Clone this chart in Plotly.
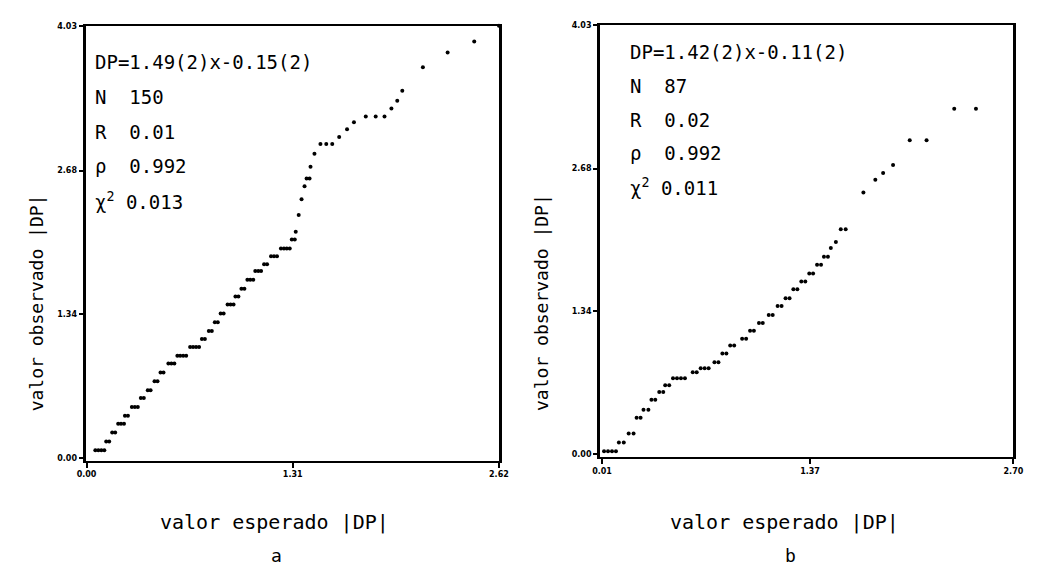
import plotly.graph_objects as go

# Panel a: expected vs observed |DP|
a_esperado = [0.056, 0.075, 0.094, 0.113, 0.125, 0.144, 0.163, 0.182, 0.201, 0.219, 0.238,
              0.244, 0.263, 0.288, 0.307, 0.326, 0.345, 0.364, 0.389, 0.407, 0.432, 0.451,
              0.470, 0.489, 0.520, 0.539, 0.558, 0.577, 0.595, 0.614, 0.633, 0.658, 0.677,
              0.696, 0.715, 0.733, 0.752, 0.777, 0.796, 0.815, 0.834, 0.852, 0.871, 0.896,
              0.915, 0.934, 0.946, 0.965, 0.984, 1.003, 1.022, 1.040, 1.059, 1.072, 1.091,
              1.109, 1.128, 1.147, 1.172, 1.191, 1.210, 1.235, 1.254, 1.272, 1.291, 1.304,
              1.323, 1.329, 1.348, 1.366, 1.385, 1.398, 1.417, 1.423, 1.448, 1.486, 1.523,
              1.561, 1.605, 1.655, 1.699, 1.774, 1.837, 1.893, 1.937, 1.974, 2.006, 2.137,
              2.294, 2.463, 2.620]
a_observado = [0.073, 0.073, 0.073, 0.073, 0.156, 0.156, 0.239, 0.239, 0.321, 0.321, 0.321,
               0.395, 0.395, 0.477, 0.477, 0.477, 0.560, 0.560, 0.633, 0.633, 0.716, 0.716,
               0.799, 0.799, 0.881, 0.881, 0.881, 0.955, 0.955, 0.955, 0.955, 1.037, 1.037,
               1.037, 1.037, 1.111, 1.111, 1.184, 1.184, 1.267, 1.267, 1.349, 1.349, 1.432,
               1.432, 1.432, 1.506, 1.506, 1.579, 1.579, 1.662, 1.662, 1.662, 1.744, 1.744,
               1.744, 1.808, 1.808, 1.882, 1.882, 1.882, 1.955, 1.955, 1.955, 1.955, 2.038,
               2.038, 2.111, 2.267, 2.414, 2.534, 2.607, 2.607, 2.717, 2.837, 2.928, 2.928,
               2.928, 2.993, 3.066, 3.130, 3.185, 3.185, 3.185, 3.259, 3.332, 3.424, 3.644,
               3.782, 3.883, 4.030]

# Panel b
b_esperado = [0.023, 0.049, 0.075, 0.101, 0.120, 0.152, 0.184, 0.216, 0.236, 0.262, 0.281,
              0.313, 0.333, 0.358, 0.384, 0.410, 0.423, 0.449, 0.474, 0.500, 0.526, 0.552,
              0.603, 0.629, 0.655, 0.681, 0.707, 0.745, 0.771, 0.797, 0.823, 0.848, 0.874,
              0.926, 0.952, 0.978, 1.003, 1.036, 1.061, 1.100, 1.126, 1.158, 1.184, 1.210,
              1.236, 1.261, 1.287, 1.313, 1.339, 1.365, 1.390, 1.416, 1.442, 1.461, 1.487,
              1.506, 1.539, 1.571, 1.603, 1.719, 1.797, 1.848, 1.913, 2.022, 2.132, 2.313,
              2.455]
b_observado = [0.028, 0.028, 0.028, 0.028, 0.111, 0.111, 0.195, 0.195, 0.343, 0.343, 0.417,
               0.417, 0.510, 0.510, 0.584, 0.584, 0.648, 0.648, 0.713, 0.713, 0.713, 0.713,
               0.769, 0.769, 0.806, 0.806, 0.806, 0.862, 0.862, 0.945, 0.945, 1.019, 1.019,
               1.084, 1.084, 1.158, 1.158, 1.232, 1.232, 1.306, 1.306, 1.390, 1.390, 1.464,
               1.464, 1.547, 1.547, 1.621, 1.621, 1.695, 1.695, 1.779, 1.779, 1.853, 1.853,
               1.936, 1.991, 2.112, 2.112, 2.455, 2.575, 2.640, 2.714, 2.946, 2.946, 3.242,
               3.242]

a_xticks = [0.00, 1.31, 2.62]
a_yticks = [0.00, 1.34, 2.68, 4.03]
b_xticks = [0.01, 1.37, 2.70]
b_yticks = [0.00, 1.34, 2.68, 4.03]

a_stats = ["DP=1.49(2)x-0.15(2)", "N  150", "R  0.01", "ρ  0.992", "χ<sup>2</sup> 0.013"]
b_stats = ["DP=1.42(2)x-0.11(2)", "N  87", "R  0.02", "ρ  0.992", "χ<sup>2</sup> 0.011"]

W, H = 1046, 571
MONO = "DejaVu Sans Mono"
tickfont = dict(family="DejaVu Sans", size=8, color="black", weight="bold")

fig = go.Figure()
marker = dict(color="black", size=4)
fig.add_trace(go.Scatter(x=a_esperado, y=a_observado, mode="markers", marker=marker,
                         cliponaxis=False, xaxis="x", yaxis="y", showlegend=False))
fig.add_trace(go.Scatter(x=b_esperado, y=b_observado, mode="markers", marker=marker,
                         cliponaxis=False, xaxis="x2", yaxis="y2", showlegend=False))

def xax(domain, rng, ticks, anchor):
    return dict(domain=domain, range=rng, tickvals=ticks,
                ticktext=[f"{t:.2f}" for t in ticks], anchor=anchor,
                showline=True, mirror=True, linecolor="black", linewidth=1.5,
                ticks="outside", ticklen=5, tickwidth=2, tickcolor="black",
                showgrid=False, zeroline=False, tickfont=tickfont,
                layer="below traces")

def yax(domain, rng, ticks, anchor):
    return dict(domain=domain, range=rng, tickvals=ticks,
                ticktext=[f"{t:.2f}" for t in ticks], anchor=anchor,
                showline=True, mirror=True, linecolor="black", linewidth=3,
                ticks="outside", ticklen=4, tickwidth=2, tickcolor="black",
                showgrid=False, zeroline=False, tickfont=tickfont,
                layer="below traces")

fig.update_layout(
    width=W, height=H,
    margin=dict(l=0, r=0, t=0, b=0),
    paper_bgcolor="white", plot_bgcolor="white",
    xaxis=xax([78 / W, 499 / W], [-0.006, 2.62], a_xticks, "y"),
    yaxis=yax([1 - 462 / H, 1 - 22 / H], [-0.028, 4.03], a_yticks, "x"),
    xaxis2=xax([602 / W, 1023 / W], [-0.003, 2.70], b_xticks, "y2"),
    yaxis2=yax([1 - 458 / H, 1 - 21 / H], [-0.028, 4.03], b_yticks, "x2"),
)

ann = []
def stats_block(lines, x0, y0, step):
    for i, s in enumerate(lines):
        ann.append(dict(text=s, x=x0 / W, y=1 - (y0 + i * step) / H,
                        xref="paper", yref="paper",
                        xanchor="left", yanchor="middle", showarrow=False,
                        font=dict(family=MONO, size=19, color="black")))

stats_block(a_stats, 86, 59, 35)
stats_block(b_stats, 630, 49, 34)

titlefont = dict(family=MONO, size=18, color="black")
xtitlefont = dict(family=MONO, size=20, color="black")
for cx, lab in [(28, "valor observado |DP|"), (543, "valor observado |DP|")]:
    ann.append(dict(text=lab, x=cx / W, y=1 - 302 / H, xref="paper", yref="paper",
                    textangle=-90, showarrow=False, font=titlefont,
                    xanchor="center", yanchor="middle"))
for cx, lab in [(270, "valor esperado |DP|"), (790, "valor esperado |DP|")]:
    ann.append(dict(text=lab, x=cx / W, y=1 - 524 / H, xref="paper", yref="paper",
                    showarrow=False, font=xtitlefont, xanchor="center", yanchor="middle"))
for cx, lab in [(272, "a"), (796, "b")]:
    ann.append(dict(text=lab, x=cx / W, y=1 - 557 / H, xref="paper", yref="paper",
                    showarrow=False, font=titlefont, xanchor="center", yanchor="middle"))

fig.update_layout(annotations=ann)
fig.write_html("out.html")
